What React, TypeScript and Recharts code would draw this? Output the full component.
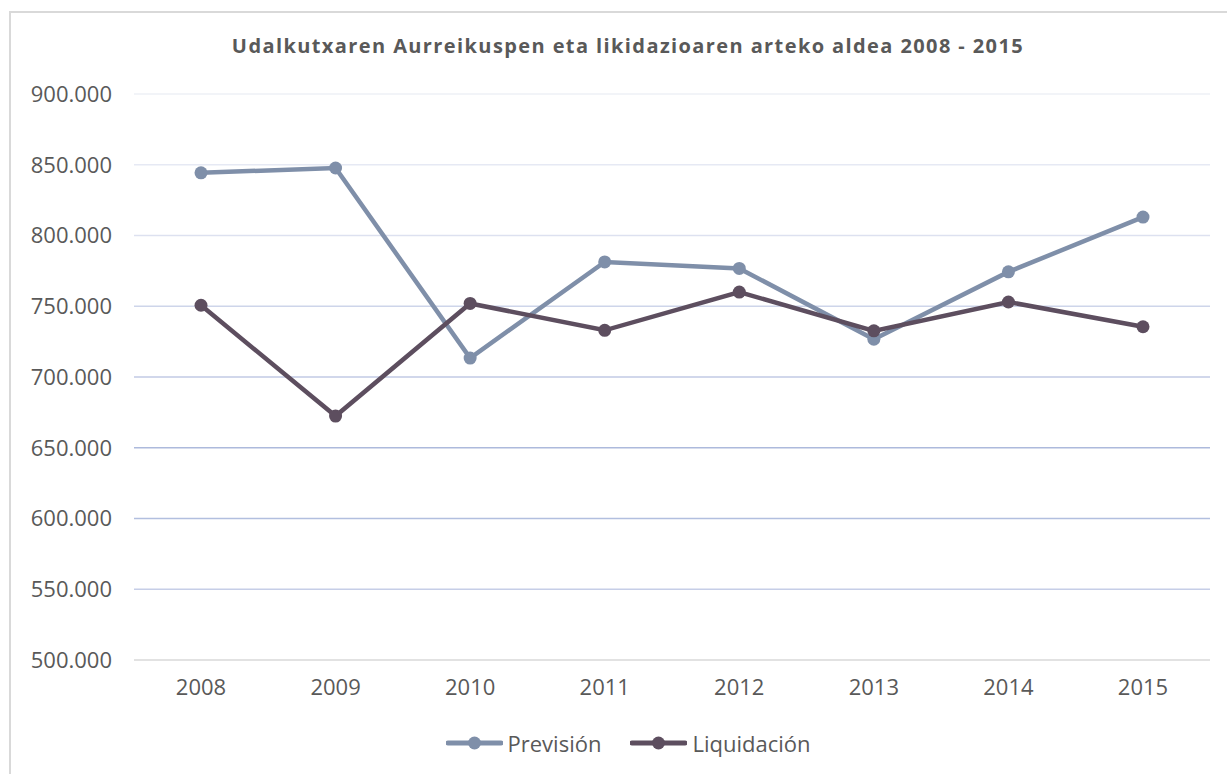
import { LineChart, Line, XAxis, YAxis, ReferenceLine } from "recharts";

const years = ["2008", "2009", "2010", "2011", "2012", "2013", "2014", "2015"];
const prevision = [844300, 847700, 713400, 781300, 776700, 726700, 774300, 813000];
const liquidacion = [750700, 672400, 752000, 733000, 760000, 732600, 753000, 735500];
const yTicks = [500000, 550000, 600000, 650000, 700000, 750000, 800000, 850000, 900000];

const gridColors: Record<number, string> = {
  550000: "#c6cee7",
  600000: "#b2bfdf",
  650000: "#adbadc",
  700000: "#c2cae5",
  750000: "#ced5ea",
  800000: "#dde1f0",
  850000: "#e6e9f4",
  900000: "#eef0f6",
};

const data = years.map((year, i) => ({
  year,
  prevision: prevision[i],
  liquidacion: liquidacion[i],
}));

const FONT = "'Open Sans', sans-serif";
const TEXT = "#595959";
const PREV_COLOR = "#7f8fa9";
const LIQ_COLOR = "#5d4e5f";

const fmt = (v: number) => v.toLocaleString("de-DE");

function LegendItem({ color, label }: { color: string; label: string }) {
  return (
    <div style={{ display: "flex", alignItems: "center" }}>
      <svg width={57} height={14}>
        <line x1={2} y1={7} x2={55} y2={7} stroke={color} strokeWidth={5} strokeLinecap="round" />
        <circle cx={28.5} cy={7} r={6.5} fill={color} />
      </svg>
      <span style={{ marginLeft: 5 }}>{label}</span>
    </div>
  );
}

export default function App() {
  return (
    <div
      style={{
        position: "fixed",
        left: 0,
        top: 0,
        width: 1227,
        height: 774,
        overflow: "hidden",
        background: "#fff",
        fontFamily: FONT,
      }}
    >
      <div
        style={{
          position: "absolute",
          left: 9,
          top: 11,
          width: 1400,
          height: 900,
          border: "2px solid #d9d9d9",
        }}
      />
      <div
        style={{
          position: "absolute",
          left: 0,
          width: 1256,
          top: 32,
          textAlign: "center",
          fontSize: 20,
          fontWeight: 700,
          letterSpacing: 1.4,
          color: TEXT,
        }}
      >
        Udalkutxaren Aurreikuspen eta likidazioaren arteko aldea 2008 - 2015
      </div>
      <div style={{ position: "absolute", left: 0, top: 0 }}>
        <LineChart
          width={1227}
          height={774}
          data={data}
          margin={{ top: 94, right: 17, bottom: 74, left: 24 }}
        >
          {yTicks
            .filter((t) => gridColors[t])
            .map((t) => (
              <ReferenceLine key={t} y={t} stroke={gridColors[t]} strokeWidth={1.5} />
            ))}
          <XAxis
            dataKey="year"
            height={40}
            padding={{ left: 67, right: 67 }}
            axisLine={{ stroke: "#d9d9d9", strokeWidth: 1.5 }}
            tickLine={false}
            tickSize={0}
            tickMargin={19}
            tick={{ fill: TEXT, fontSize: 22, fontFamily: FONT }}
          />
          <YAxis
            width={110}
            domain={[500000, 900000]}
            ticks={yTicks}
            axisLine={false}
            tickLine={false}
            tickSize={0}
            tickMargin={22}
            tickFormatter={fmt}
            tick={{ fill: TEXT, fontSize: 22, fontFamily: FONT }}
          />
          <Line
            dataKey="prevision"
            name="Previsión"
            stroke={PREV_COLOR}
            strokeWidth={4.5}
            dot={{ r: 6.5, fill: PREV_COLOR, stroke: "none" }}
            isAnimationActive={false}
          />
          <Line
            dataKey="liquidacion"
            name="Liquidación"
            stroke={LIQ_COLOR}
            strokeWidth={4.5}
            dot={{ r: 6.5, fill: LIQ_COLOR, stroke: "none" }}
            isAnimationActive={false}
          />
        </LineChart>
      </div>
      <div
        style={{
          position: "absolute",
          left: 0,
          width: 1256,
          top: 728,
          display: "flex",
          justifyContent: "center",
          gap: 29,
          fontSize: 22,
          color: TEXT,
          lineHeight: "30px",
        }}
      >
        <LegendItem color={PREV_COLOR} label="Previsión" />
        <LegendItem color={LIQ_COLOR} label="Liquidación" />
      </div>
    </div>
  );
}
